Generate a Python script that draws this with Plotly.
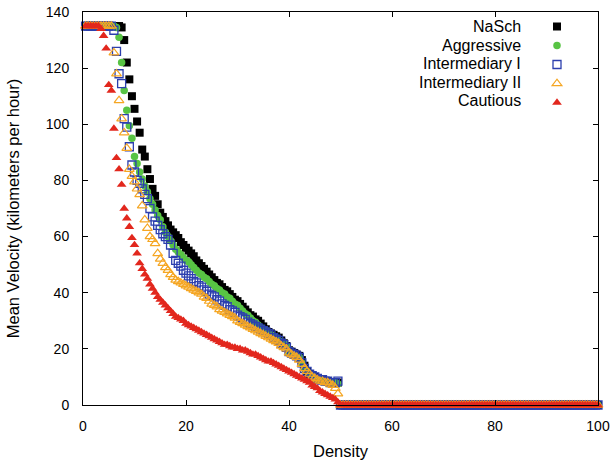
import plotly.graph_objects as go

# ---------------- data ----------------
# Density grid: 0.5, 1.0, ... 100.0
DENSITY = [round(0.5 * k, 1) for k in range(1, 201)]

# Mean velocity (km/h) for densities 0.5 ... 49.5 (99 values per series)
NASCH_FREE = [
    135, 135, 135, 135, 135, 135, 135, 135, 135, 135,
    135, 135, 135, 135, 134.5, 130, 122, 116, 110, 105.5,
    101, 97, 91, 88.5, 84, 80.5, 77, 74.5, 71.5, 68.5,
    67, 65.5, 64, 62.5, 61.5, 60.5, 59.5, 58, 57, 56,
    55, 54, 53, 51.5, 50.5, 49.5, 48.5, 47.5, 46.5, 45.5,
    44.5, 43.5, 43, 42, 41, 40.5, 39.5, 38.5, 37.5, 37,
    36, 35, 34, 33, 32, 31.5, 30.5, 30, 29, 28,
    27, 26, 25.5, 25, 24.5, 24, 23, 22, 21, 19.5,
    19, 18.5, 18, 17.5, 16, 14, 12, 11, 10.5, 10,
    9.5, 9, 9, 8.5, 8.5, 8, 8, 8, 8,
]
AGGRESSIVE_FREE = [
    135, 135, 135, 135, 135, 135, 135, 135, 135, 135,
    135, 135, 134.5, 131, 122, 112, 105, 99.5, 95, 88.5,
    86, 83, 80.5, 78, 76, 73.5, 71.5, 69.5, 67.5, 66,
    63.5, 61.5, 60, 58.5, 57, 55.5, 54.5, 53.5, 52.5, 51.5,
    51, 50, 49, 48, 47, 46.5, 45.5, 45, 44, 43,
    42.5, 41.5, 41, 40, 39.5, 38.5, 38, 37, 36, 35.5,
    34.5, 33.5, 32.5, 32, 31, 30, 29.5, 28.5, 27.5, 27,
    26.5, 25.5, 25, 24.5, 24, 23, 22.5, 22, 21, 19,
    18.5, 18, 17.5, 17, 15, 13, 12, 11, 10.5, 10,
    9.5, 9, 9, 8.5, 8.5, 8, 8, 8, 7.5,
]
INTERMEDIARY1_FREE = [
    135, 135, 135, 135, 135, 135, 135, 135, 135, 135,
    135, 133.5, 126, 118, 114.5, 102, 99, 92, 85.5, 83,
    80, 79, 77, 75, 73.5, 70, 67, 65.5, 64, 62.5,
    61, 60, 59, 57, 54, 51.5, 50.5, 49.5, 48, 47,
    46, 45, 44, 43.5, 42.5, 42, 41, 40.5, 39.5, 39,
    38.5, 37.5, 37, 36, 35.5, 35, 34, 33.5, 33, 32,
    31.5, 31, 30.5, 29.5, 29, 28.5, 28, 27.5, 27, 26.5,
    26, 25.5, 25, 24, 23.5, 23, 22, 21.5, 20.5, 19,
    18.5, 18, 17.5, 17, 15, 13, 12, 11, 10.5, 10,
    9.5, 9, 9, 8.5, 8.5, 8, 8, 8, 8.5,
]
INTERMEDIARY2_FREE = [
    135, 135, 135, 135, 135, 135, 135, 135, 135, 135,
    135, 125.5, 118, 108.5, 102, 97, 91.5, 84, 81.5, 79.5,
    77, 75, 71, 66, 63, 60, 59, 57.5, 54, 52,
    50.5, 49, 48, 46.5, 45.5, 44.5, 44, 43.5, 43, 42.5,
    42, 41.5, 41, 40.5, 40, 39.5, 38.5, 38, 37, 36,
    35.5, 35, 34, 33.5, 33, 32.5, 32, 31.5, 31, 30,
    29.5, 29, 28.5, 28, 27.5, 27, 26.5, 26, 25.5, 25,
    24.5, 24, 23.5, 23, 22.5, 22, 21, 20.5, 20, 18.5,
    18, 17.5, 17, 16, 14.5, 13, 12, 11, 10, 9.5,
    9, 8.5, 8.5, 8, 8, 7.5, 7, 6, 4,
]
CAUTIOUS_FREE = [
    135, 135, 135, 135, 135, 135, 134, 131.5, 127, 114,
    112, 98.5, 88, 84, 78.5, 70, 66.5, 63.5, 59.5, 57,
    54, 50.5, 48.5, 46.5, 45, 43, 41.5, 40, 38.5, 37.5,
    36.5, 35.5, 34.5, 33.5, 32.5, 31.5, 31, 30.5, 30, 29,
    28.5, 28, 27.5, 27, 26.5, 26, 25.5, 25, 24.5, 24,
    23.5, 23, 22.5, 22, 21.5, 21.5, 21, 20.5, 20.5, 20,
    20, 19.5, 19.5, 19, 18.5, 18, 18, 17.5, 17, 16.5,
    16, 15.5, 15.5, 15, 14.5, 14, 13.5, 13, 12.5, 12,
    11.5, 11, 10.5, 10, 9.5, 9, 8.5, 8, 7, 6.5,
    6, 5, 4.5, 4, 3.5, 3, 2.5, 2, 1,
]
# every series reads 0 for densities 50.0 ... 100.0 (101 grid points)
JAM_TAIL = [0] * 101

SERIES_NAMES = ["NaSch", "Aggressive", "Intermediary I", "Intermediary II", "Cautious"]
SERIES_VALUES = [
    NASCH_FREE + JAM_TAIL,
    AGGRESSIVE_FREE + JAM_TAIL,
    INTERMEDIARY1_FREE + JAM_TAIL,
    INTERMEDIARY2_FREE + JAM_TAIL,
    CAUTIOUS_FREE + JAM_TAIL,
]
X_TICKS = [0, 20, 40, 60, 80, 100]
Y_TICKS = [0, 20, 40, 60, 80, 100, 120, 140]

# ---------------- styles ----------------
MARKERS = [
    dict(symbol="square", size=8, color="#000000", line=dict(width=0)),
    dict(symbol="circle", size=7.5, color="#58c444", line=dict(width=0)),
    dict(symbol="square-open", size=8, color="#2c3fae", line=dict(width=1.3, color="#2c3fae")),
    dict(symbol="triangle-up-open", size=8.5, color="#f5a623", line=dict(width=1.2, color="#f5a623")),
    dict(symbol="triangle-up", size=8.5, color="#e2271d", line=dict(width=0)),
]

FONT = "Liberation Sans, Arial, sans-serif"

fig = go.Figure()
for name, vals, mk in zip(SERIES_NAMES, SERIES_VALUES, MARKERS):
    fig.add_trace(go.Scatter(x=DENSITY, y=vals, mode="markers", name=name,
                             marker=mk, cliponaxis=False, showlegend=False))
# legend keys (text is drawn to the left of the symbols, as in the reference)
for name, mk in zip(SERIES_NAMES, MARKERS):
    fig.add_trace(go.Scatter(x=[None], y=[None], mode="markers", name="",
                             legendgroup=name, marker=mk, showlegend=True))

L, R, T, B = 83, 14, 12, 56
W, H = 612, 461
plot_h = H - T - B
plot_w = W - L - R

row0_px = 27.0
row_gap = 18.5
text_right_px = 523.0
for i, name in enumerate(SERIES_NAMES):
    py = row0_px + i * row_gap
    fig.add_annotation(x=(text_right_px - L) / plot_w, y=(H - B - py) / plot_h,
                       xref="paper", yref="paper",
                       text=name, showarrow=False, xanchor="right", yanchor="middle",
                       font=dict(family=FONT, size=16, color="#000000"))

axis_common = dict(
    showline=True, linecolor="#000000", linewidth=1, mirror="ticks",
    ticks="inside", ticklen=5, tickwidth=1, tickcolor="#000000",
    showgrid=False, zeroline=False, automargin=False,
    tickfont=dict(family=FONT, size=14, color="#000000"),
)

fig.update_layout(
    width=W, height=H,
    margin=dict(l=L, r=R, t=T, b=B, autoexpand=False),
    paper_bgcolor="white", plot_bgcolor="white",
    font=dict(family=FONT, size=14, color="#000000"),
    xaxis=dict(range=[0, 100], tickvals=X_TICKS, ticklabelstandoff=8,
               title=dict(text="Density", font=dict(family=FONT, size=16.5), standoff=12),
               **axis_common),
    yaxis=dict(range=[0, 140], tickvals=Y_TICKS, ticklabelstandoff=10,
               title=dict(text="Mean Velocity (kilometers per hour)", font=dict(family=FONT, size=16.5),
                          standoff=22),
               **axis_common),
    legend=dict(x=(537 - L) / plot_w, y=1.0, xanchor="left", yanchor="top",
                bgcolor="rgba(0,0,0,0)", borderwidth=0,
                font=dict(family=FONT, size=12), itemwidth=30, tracegroupgap=0),
    showlegend=True,
)

fig.write_html("out.html")
